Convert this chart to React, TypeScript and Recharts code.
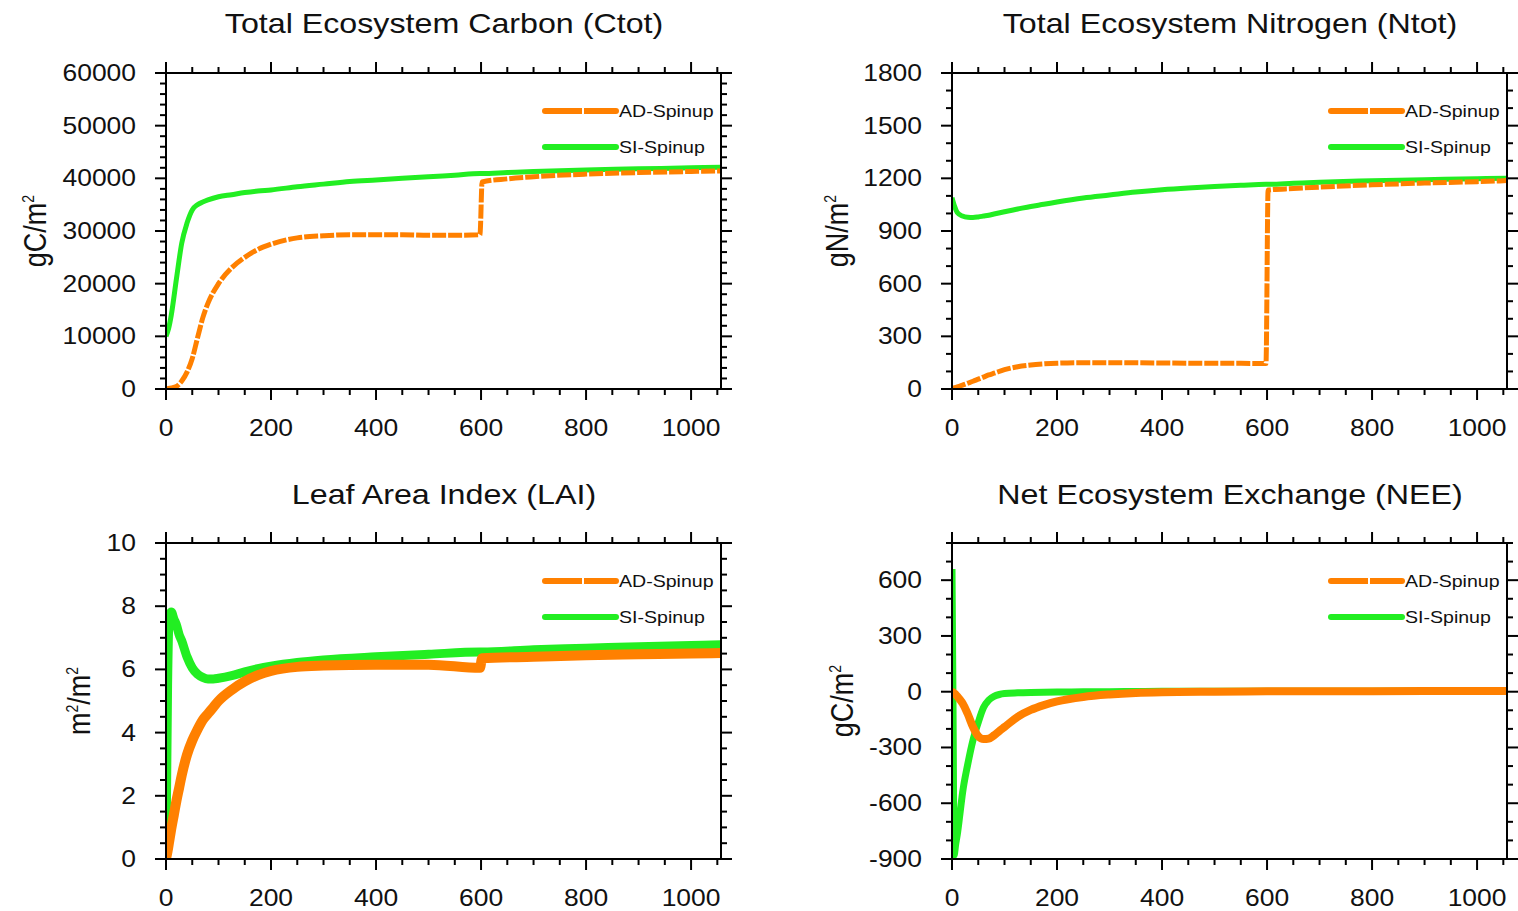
import { Line, LineChart, XAxis, YAxis } from 'recharts';

// years on the x axis, one list per panel (the orange run jumps at year 600)
const carbonYears = [0, 5, 10, 20, 30, 40, 50, 60, 70, 80, 100, 125, 150, 175, 200, 250, 300, 350, 400, 450, 500, 550, 598, 602, 650, 700, 800, 900, 1000, 1057];
const ctotAD = [0, 100, 200, 500, 1500, 3200, 5800, 9700, 13500, 16300, 20000, 23000, 25000, 26500, 27500, 28700, 29100, 29300, 29300, 29300, 29200, 29200, 29300, 39300, 39900, 40300, 40800, 41100, 41300, 41400];
const ctotSI = [10000, 11500, 14000, 21000, 27700, 31500, 34000, 35000, 35500, 35900, 36500, 36900, 37300, 37600, 37800, 38400, 38900, 39400, 39700, 40000, 40300, 40600, 40900, 40900, 41100, 41300, 41600, 41800, 42000, 42100];
const ntotAD = [5, 8, 12, 22, 33, 44, 56, 68, 80, 90, 110, 127, 137, 143, 147, 150, 150, 149, 148, 147, 146, 146, 145, 1133, 1142, 1150, 1163, 1173, 1181, 1187];
const ntotSI = [1090, 1040, 1005, 985, 978, 977, 980, 985, 990, 997, 1010, 1025, 1040, 1052, 1065, 1088, 1105, 1122, 1135, 1145, 1153, 1160, 1166, 1166, 1172, 1178, 1186, 1192, 1198, 1200];

const laiYears = [0, 3, 6, 10, 15, 20, 25, 30, 40, 50, 60, 70, 80, 90, 100, 125, 150, 175, 200, 250, 300, 400, 500, 598, 602, 700, 800, 900, 1000, 1057];
const laiAD = [0, 0.25, 0.55, 0.95, 1.4, 1.85, 2.25, 2.65, 3.3, 3.75, 4.1, 4.4, 4.6, 4.8, 5.0, 5.35, 5.62, 5.82, 5.95, 6.08, 6.12, 6.15, 6.15, 6.05, 6.35, 6.4, 6.45, 6.48, 6.5, 6.52];
const laiSI = [0.3, 5.5, 7.6, 7.82, 7.6, 7.4, 7.1, 6.9, 6.4, 6.05, 5.85, 5.75, 5.7, 5.7, 5.72, 5.8, 5.92, 6.02, 6.1, 6.22, 6.3, 6.4, 6.48, 6.55, 6.55, 6.62, 6.67, 6.72, 6.76, 6.78];

const neeYears = [0, 2, 4, 7, 10, 15, 20, 30, 40, 50, 60, 70, 80, 90, 100, 125, 150, 175, 200, 250, 300, 350, 400, 500, 600, 700, 800, 900, 1000, 1057];
const neeAD = [0, -3, -8, -15, -25, -42, -61, -120, -190, -240, -255, -252, -235, -212, -190, -135, -98, -72, -52, -28, -15, -7, -3, 0, 2, 3, 3, 4, 4, 4];
const neeSI = [660, -100, -880, -820, -770, -660, -546, -390, -260, -165, -85, -45, -25, -15, -10, -6, -4, -3, -2, 0, 0, 1, 2, 2, 3, 3, 3, 4, 4, 4];

// tick labels
const yearLabels = [0, 200, 400, 600, 800, 1000];
const ctotLabels = [0, 10000, 20000, 30000, 40000, 50000, 60000];
const ntotLabels = [0, 300, 600, 900, 1200, 1500, 1800];
const laiLabels = [0, 2, 4, 6, 8, 10];
const neeLabels = [-900, -600, -300, 0, 300, 600];

const seriesNames = ['AD-Spinup', 'SI-Spinup'];

const X_MAX = 1057;
const ORANGE = '#ff8000';
const GREEN = '#22ee22';
const FONT = '"Liberation Sans", Arial, Helvetica, sans-serif';
const STRETCH = 1.15;

const range = (from: number, to: number, step: number) => {
  const out: number[] = [];
  for (let v = from; v <= to + 1e-9; v += step) out.push(Math.round(v * 1000) / 1000);
  return out;
};

const toRows = (years: number[], ad: number[], si: number[]) =>
  years.map((year, i) => ({ year, ad: ad[i], si: si[i] }));

type Side = 'bottom' | 'top' | 'left' | 'right';

const makeTick = (side: Side, majors: number[], withLabel: boolean) => (props: any) => {
  const { x, y, payload } = props;
  const v = payload.value as number;
  const major = majors.some((m) => Math.abs(m - v) < 1e-6);
  const len = major ? 11 : 6;
  let x2 = x;
  let y2 = y;
  if (side === 'bottom') y2 = y + len;
  if (side === 'top') y2 = y - len;
  if (side === 'left') x2 = x - len;
  if (side === 'right') x2 = x + len;

  let label = null;
  if (withLabel && major) {
    const lx = side === 'left' ? x - 30 : x;
    const ly = side === 'left' ? y + 8 : y + 47;
    label = (
      <text
        transform={`translate(${lx},${ly}) scale(${STRETCH},1)`}
        textAnchor={side === 'left' ? 'end' : 'middle'}
        fontSize={23}
        fontFamily={FONT}
        fill="#111"
      >
        {v}
      </text>
    );
  }
  return (
    <g>
      <line x1={x} y1={y} x2={x2} y2={y2} stroke="#000" strokeWidth={2} />
      {label}
    </g>
  );
};

interface PanelProps {
  box: { left: number; top: number; width: number; height: number };
  plot: { l: number; r: number; t: number; b: number };
  rows: { year: number; ad: number; si: number }[];
  yDomain: [number, number];
  yTicks: number[];
  yLabels: number[];
  title: string;
  titleY: number;
  unit: React.ReactNode;
  unitX: number;
  adWidth: number;
  siWidth: number;
  adDash?: string;
}

const LEFT_W = 40;
const RIGHT_W = 2;
const TOP_H = 2;
const BOTTOM_H = 40;
const xTicks = range(0, 1050, 50);
const axisLine = { stroke: '#000', strokeWidth: 2 };

const Panel = ({ box, plot, rows, yDomain, yTicks, yLabels, title, titleY, unit, unitX, adWidth, siWidth, adDash }: PanelProps) => {
  const margin = {
    left: plot.l - box.left - LEFT_W,
    right: box.left + box.width - plot.r - RIGHT_W,
    top: plot.t - box.top - TOP_H,
    bottom: box.top + box.height - plot.b - BOTTOM_H,
  };
  const cx = (plot.l + plot.r) / 2;
  const cy = (plot.t + plot.b) / 2;
  const legendRows = [
    { name: seriesNames[0], color: ORANGE, y: plot.t + 38, dashed: true },
    { name: seriesNames[1], color: GREEN, y: plot.t + 74, dashed: false },
  ];

  return (
    <>
      <div style={{ position: 'absolute', left: box.left, top: box.top }}>
        <LineChart width={box.width} height={box.height} data={rows} margin={margin}>
          <XAxis
            xAxisId="b"
            dataKey="year"
            type="number"
            domain={[0, X_MAX]}
            allowDataOverflow
            ticks={xTicks}
            interval={0}
            tickSize={0}
            tickMargin={0}
            tickLine={false}
            axisLine={axisLine}
            height={BOTTOM_H}
            tick={makeTick('bottom', yearLabels, true)}
          />
          <XAxis
            xAxisId="t"
            orientation="top"
            dataKey="year"
            type="number"
            domain={[0, X_MAX]}
            allowDataOverflow
            ticks={xTicks}
            interval={0}
            tickSize={0}
            tickMargin={0}
            tickLine={false}
            axisLine={axisLine}
            height={TOP_H}
            tick={makeTick('top', yearLabels, false)}
          />
          <YAxis
            yAxisId="l"
            type="number"
            domain={yDomain}
            allowDataOverflow
            ticks={yTicks}
            interval={0}
            tickSize={0}
            tickMargin={0}
            tickLine={false}
            axisLine={axisLine}
            width={LEFT_W}
            tick={makeTick('left', yLabels, true)}
          />
          <YAxis
            yAxisId="r"
            orientation="right"
            type="number"
            domain={yDomain}
            allowDataOverflow
            ticks={yTicks}
            interval={0}
            tickSize={0}
            tickMargin={0}
            tickLine={false}
            axisLine={axisLine}
            width={RIGHT_W}
            tick={makeTick('right', yLabels, false)}
          />
          <Line
            xAxisId="b"
            yAxisId="l"
            type="monotone"
            dataKey="si"
            stroke={GREEN}
            strokeWidth={siWidth}
            dot={false}
            isAnimationActive={false}
          />
          <Line
            xAxisId="b"
            yAxisId="l"
            type="monotone"
            dataKey="ad"
            stroke={ORANGE}
            strokeWidth={adWidth}
            strokeDasharray={adDash}
            dot={false}
            isAnimationActive={false}
          />
        </LineChart>
      </div>

      <div
        style={{
          position: 'absolute',
          left: cx,
          top: titleY,
          transform: `translate(-50%, -50%) scaleX(${STRETCH})`,
          fontFamily: FONT,
          fontSize: 28,
          lineHeight: 1,
          whiteSpace: 'nowrap',
          color: '#111',
        }}
      >
        {title}
      </div>

      <div
        style={{
          position: 'absolute',
          left: unitX,
          top: cy,
          transform: `translate(-50%, -50%) rotate(-90deg) scaleY(${STRETCH})`,
          fontFamily: FONT,
          fontSize: 27,
          lineHeight: 1,
          whiteSpace: 'nowrap',
          color: '#111',
        }}
      >
        {unit}
      </div>

      {legendRows.map((row) => (
        <div key={row.name}>
          <div
            style={{
              position: 'absolute',
              left: plot.r - 179,
              top: row.y - 3,
              width: 77,
              height: 6,
              borderRadius: 3,
              background: row.dashed
                ? `linear-gradient(to right, ${row.color} 0 52%, #fff 52% 54%, ${row.color} 54% 100%)`
                : row.color,
            }}
          />
          <div
            style={{
              position: 'absolute',
              left: plot.r - 102,
              top: row.y,
              transform: `translateY(-50%) scaleX(${STRETCH})`,
              transformOrigin: 'left center',
              fontFamily: FONT,
              fontSize: 17,
              lineHeight: 1,
              whiteSpace: 'nowrap',
              color: '#111',
            }}
          >
            {row.name}
          </div>
        </div>
      ))}
    </>
  );
};

const sup = (s: string) => <sup style={{ fontSize: 14, verticalAlign: 'super', lineHeight: 0 }}>{s}</sup>;

const App = () => {
  return (
    <div style={{ position: 'absolute', left: 0, top: 0, width: 1518, height: 911, background: '#fff', overflow: 'hidden' }}>
      <Panel
        box={{ left: 0, top: 0, width: 760, height: 460 }}
        plot={{ l: 166, r: 721, t: 73, b: 389 }}
        rows={toRows(carbonYears, ctotAD, ctotSI)}
        yDomain={[0, 60000]}
        yTicks={range(0, 60000, 2000)}
        yLabels={ctotLabels}
        title="Total Ecosystem Carbon (Ctot)"
        titleY={24}
        unit={<>gC/m{sup('2')}</>}
        unitX={36}
        adWidth={5}
        siWidth={5}
        adDash="14 2"
      />
      <Panel
        box={{ left: 770, top: 0, width: 748, height: 460 }}
        plot={{ l: 952, r: 1507, t: 73, b: 389 }}
        rows={toRows(carbonYears, ntotAD, ntotSI)}
        yDomain={[0, 1800]}
        yTicks={range(0, 1800, 100)}
        yLabels={ntotLabels}
        title="Total Ecosystem Nitrogen (Ntot)"
        titleY={24}
        unit={<>gN/m{sup('2')}</>}
        unitX={838}
        adWidth={5}
        siWidth={5}
        adDash="14 2"
      />
      <Panel
        box={{ left: 0, top: 465, width: 760, height: 446 }}
        plot={{ l: 166, r: 721, t: 543, b: 859 }}
        rows={toRows(laiYears, laiAD, laiSI)}
        yDomain={[0, 10]}
        yTicks={range(0, 10, 0.5)}
        yLabels={laiLabels}
        title="Leaf Area Index (LAI)"
        titleY={495}
        unit={<>m{sup('2')}/m{sup('2')}</>}
        unitX={80}
        adWidth={10}
        siWidth={9}
      />
      <Panel
        box={{ left: 770, top: 465, width: 748, height: 446 }}
        plot={{ l: 952, r: 1507, t: 543, b: 859 }}
        rows={toRows(neeYears, neeAD, neeSI)}
        yDomain={[-900, 800]}
        yTicks={range(-900, 800, 100)}
        yLabels={neeLabels}
        title="Net Ecosystem Exchange (NEE)"
        titleY={495}
        unit={<>gC/m{sup('2')}</>}
        unitX={843}
        adWidth={8}
        siWidth={7}
      />
    </div>
  );
};

export default App;
